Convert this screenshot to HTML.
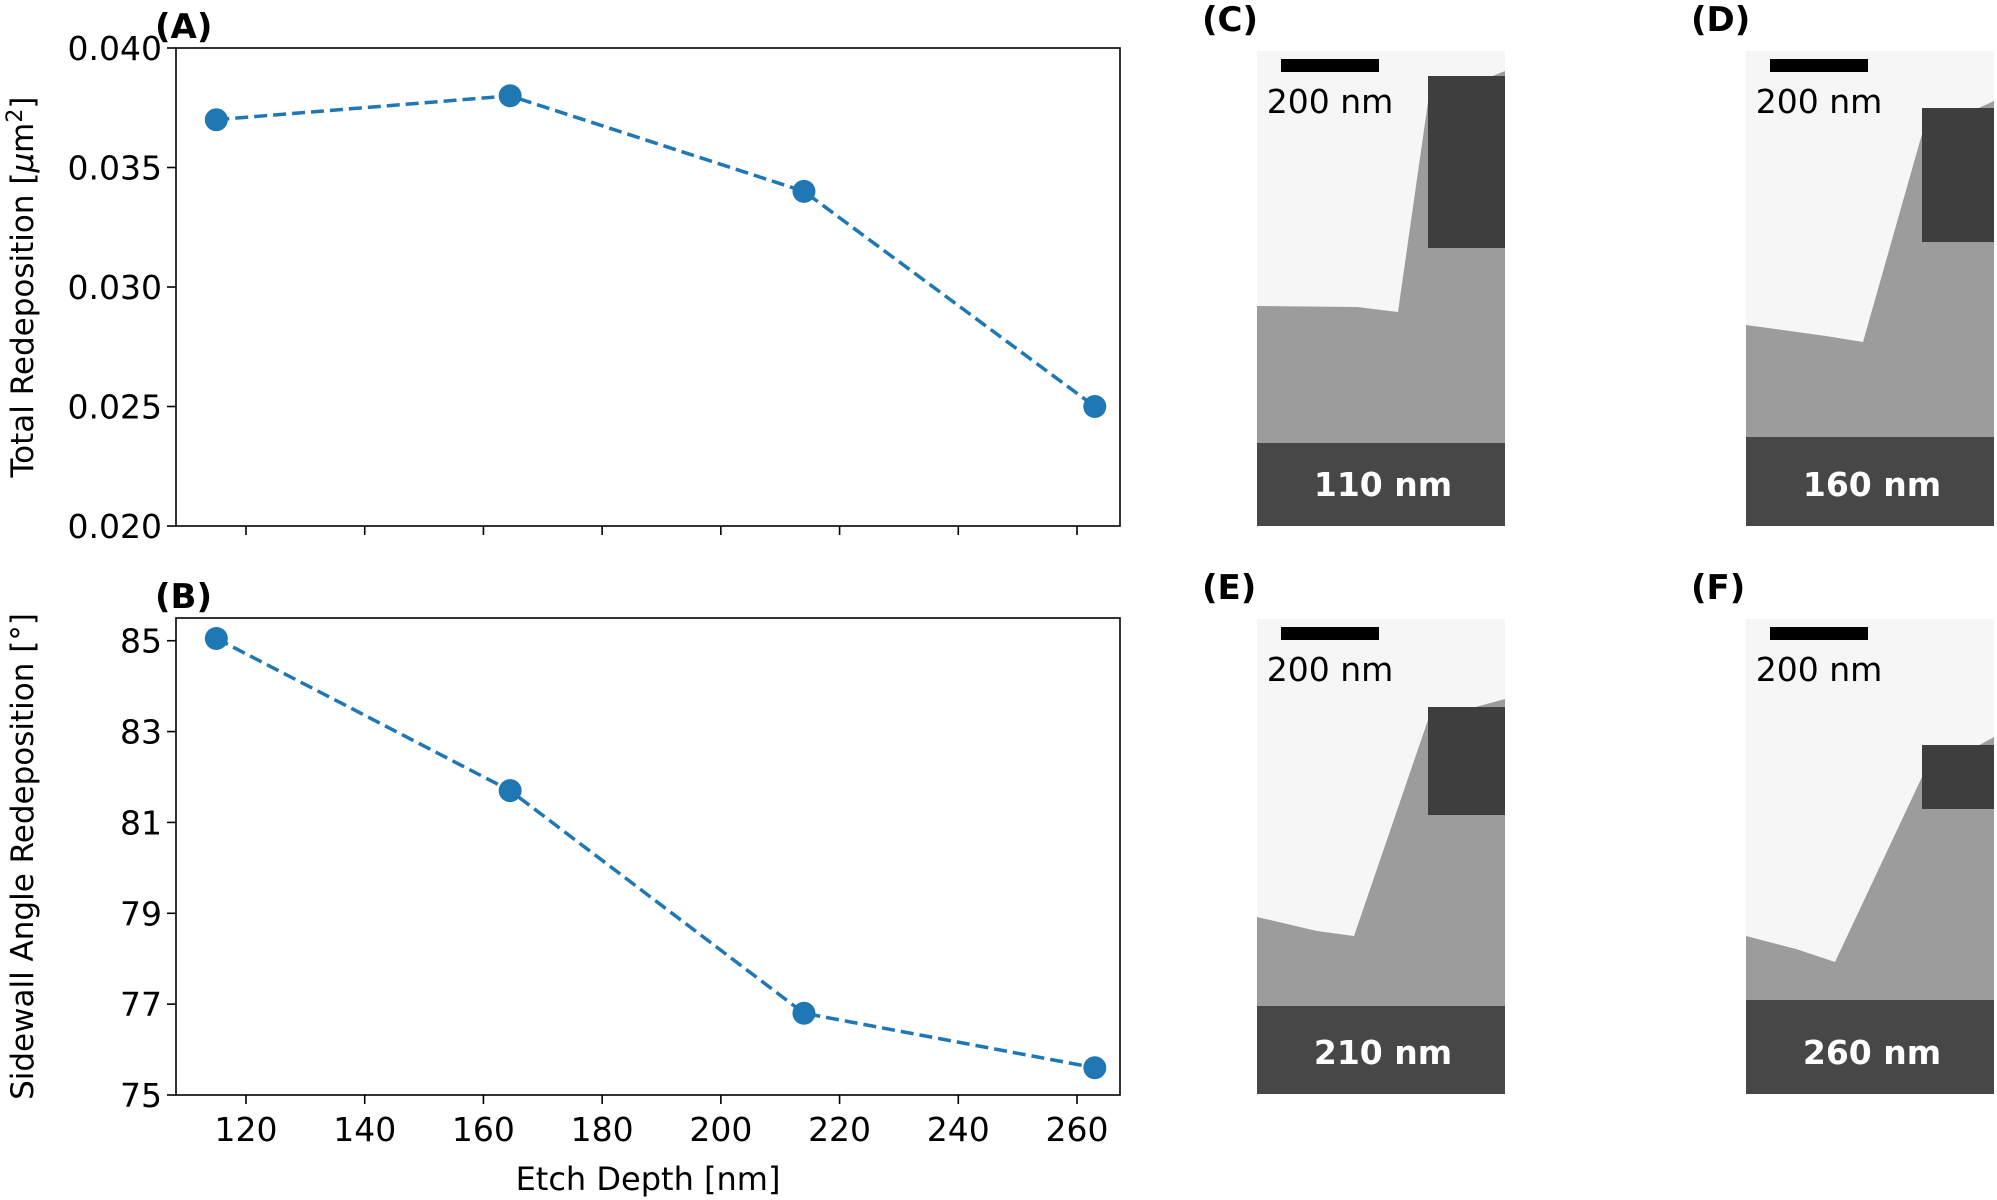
<!DOCTYPE html>
<html><head><meta charset="utf-8"><style>
body{margin:0;background:#fff;}
svg{display:block;font-family:"DejaVu Sans","Liberation Sans",sans-serif;}
</style></head><body>
<svg id="fig" width="1997" height="1200" viewBox="0 0 1997 1200"></svg>
<script>
const depths=[115,164.5,214,263];
const totalRedep=[0.037,0.038,0.034,0.025];
const sidewallAngle=[85.05,81.7,76.8,75.6];
const xTicks=[120,140,160,180,200,220,240,260];
const yTicksA=[0.020,0.025,0.030,0.035,0.040];
const yTicksB=[75,77,79,81,83,85];

const NS="http://www.w3.org/2000/svg";
const svg=document.getElementById('fig');
function mk(t,a,p){const e=document.createElementNS(NS,t);for(const k in a)e.setAttribute(k,a[k]);(p||svg).appendChild(e);return e;}
const L=176,R=1120;
const xs=v=>246+(v-120)*(1077-246)/140;
function panel(top,bot,y0,y1,yt,fmt,vals,showX,name,label,ytitle){
  const g=mk('g',{});
  
  
  const ys=v=>bot-(v-y0)/(y1-y0)*(bot-top);
  const fr=mk('rect',{x:L,y:top,width:R-L,height:bot-top,fill:'none',stroke:'#000','stroke-width':1.6},g);
  
  
  yt.forEach(v=>{
    const y=ys(v);
    mk('line',{x1:L-9,x2:L,y1:y,y2:y,stroke:'#000','stroke-width':1.6},g);
    const t=mk('text',{x:L-14,y:y+12,'text-anchor':'end','font-size':33},g);
    t.textContent=fmt(v);
    
    
  });
  xTicks.forEach(v=>{
    const x=xs(v);
    mk('line',{x1:x,x2:x,y1:bot,y2:bot+9,stroke:'#000','stroke-width':1.6},g);
    if(showX){const t=mk('text',{x:x,y:bot+46,'text-anchor':'middle','font-size':33},g);t.textContent=v;
      
      }
  });
  const pts=depths.map((d,i)=>xs(d)+','+ys(vals[i])).join(' ');
  const ln=mk('polyline',{points:pts,fill:'none',stroke:'#1f77b4','stroke-width':3.5,'stroke-dasharray':'13,6'},g);
  
  
  depths.forEach((d,i)=>{const c=mk('circle',{cx:xs(d),cy:ys(vals[i]),r:11.5,fill:'#1f77b4'},g);
    
    });
  const lb=mk('text',{x:155,y:top-10,'font-size':34,'font-weight':'bold'},g);lb.textContent=label;
  
  
  const yc=(top+bot)/2;
  const tt=mk('text',{x:0,y:0,'text-anchor':'middle','font-size':31,transform:`translate(33,${yc}) rotate(-90)`},g);
  tt.innerHTML=ytitle;
  
  
}
panel(48,526,0.020,0.040,yTicksA,v=>v.toFixed(3),totalRedep,false,'chart-total-redeposition','(A)','Total Redeposition [<tspan font-style="italic">μ</tspan>m<tspan dy="-11" font-size="22">2</tspan><tspan dy="11">]</tspan>');
panel(618,1095,75,85.5,yTicksB,v=>v,sidewallAngle,true,'chart-sidewall-angle','(B)','Sidewall Angle Redeposition [°]');
const xt=mk('text',{x:(L+R)/2,y:1190,'text-anchor':'middle','font-size':32});xt.textContent='Etch Depth [nm]';



// SEM images
const imgs=[
 {x:1257,y:51,lab:'(C)',d:'110 nm',white:'0,0 248,0 248,20 171,51 141,261 100,256 0,255',blk:[171,25,77,172],band:392},
 {x:1746,y:51,lab:'(D)',d:'160 nm',white:'0,0 248,0 248,50 176,83 117,291 80,285 0,274',blk:[176,57,72,134],band:386},
 {x:1257,y:619,lab:'(E)',d:'210 nm',white:'0,0 248,0 248,80 171,101 97,317 60,312 0,298',blk:[171,88,77,108],band:387},
 {x:1746,y:619,lab:'(F)',d:'260 nm',white:'0,0 248,0 248,118 176,158 89,343 50,330 0,317',blk:[176,126,72,64],band:381}
];
imgs.forEach((m,i)=>{
  const g=mk('g',{transform:`translate(${m.x},${m.y})`});
  
  
  mk('rect',{x:0,y:0,width:248,height:475,fill:'#9c9c9c'},g);
  mk('polygon',{points:m.white,fill:'#f6f6f6'},g);
  mk('rect',{x:m.blk[0],y:m.blk[1],width:m.blk[2],height:m.blk[3],fill:'#3e3e3e'},g);
  mk('rect',{x:0,y:m.band,width:248,height:475-m.band,fill:'#474747'},g);
  const sb=mk('rect',{x:24,y:8,width:98,height:13,fill:'#000'},g);
  
  
  const st=mk('text',{x:73,y:62,'text-anchor':'middle','font-size':33},g);st.textContent='200 nm';
  
  
  const dt=mk('text',{x:126,y:445,'text-anchor':'middle','font-size':33,'font-weight':'bold',fill:'#fff'},g);dt.textContent=m.d;
  
  
  const pl=mk('text',{x:m.x-55,y:m.y-20,'font-size':34,'font-weight':'bold'});pl.textContent=m.lab;
  
  
});
</script>
</body></html>
